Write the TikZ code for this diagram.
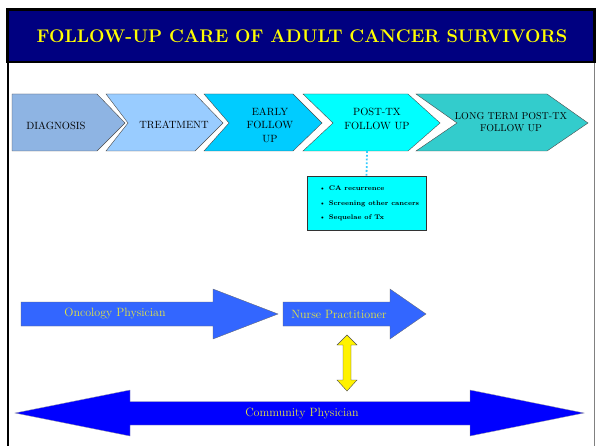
\documentclass[tikz,border=0pt]{standalone}
\usetikzlibrary{positioning}

\definecolor{navyband}{HTML}{000080}
\definecolor{titleyellow}{HTML}{FFFF00}
\definecolor{phaseone}{HTML}{8EB4E3}
\definecolor{phasetwo}{HTML}{99CCFF}
\definecolor{phasethree}{HTML}{00CCFF}
\definecolor{phasefour}{HTML}{00FFFF}
\definecolor{phasefive}{HTML}{33CCCC}
\definecolor{oncblue}{HTML}{3366FF}
\definecolor{commblue}{HTML}{0000FF}
\definecolor{softyellow}{HTML}{E6E640}
\definecolor{dotcyan}{HTML}{33CCFF}

\tikzset{
  phase/.style={draw=black!70, line width=0.4pt},
  phasetext/.style={align=center, font=\fontsize{10.5}{13.5}\selectfont, inner sep=0pt},
  roletext/.style={text=softyellow, font=\fontsize{12}{13}\selectfont, inner sep=0pt},
}

\begin{document}
\begin{tikzpicture}[x=1pt, y=-1pt]
				\useasboundingbox (0,0) rectangle (596,446);
				\fill[white] (0,0) rectangle (596,446);
				
				% frame and title band
				\draw[line width=2pt] (8,9) -- (8,446);
				\draw[gray, line width=0.8pt] (594,60) -- (594,446);
				\draw[fill=navyband, line width=2.5pt] (7.5,9.5) rectangle (594.5,62);
				\node[text=titleyellow, font=\bfseries\fontsize{18.3}{22}\selectfont] (title) at (302,36) {FOLLOW-UP CARE OF ADULT CANCER SURVIVORS};
				
				% chevrons
				\draw[phase, fill=phaseone] (12,94) -- (97,94) -- (125,123) -- (97,151) -- (12,151) -- cycle;
				\draw[phase, fill=phasetwo] (106,94) -- (195,94) -- (223,123) -- (195,151) -- (106,151) -- (128,123) -- cycle;
				\draw[phase, fill=phasethree] (204,94) -- (293,94) -- (322,123) -- (293,151) -- (204,151) -- (229,123) -- cycle;
				\draw[phase, fill=phasefour] (303,94) -- (408,94) -- (440,123) -- (408,151) -- (303,151) -- (333,123) -- cycle;
				\draw[phase, fill=phasefive] (416,94) -- (547,94) -- (588,123) -- (547,151) -- (416,151) -- (457,123) -- cycle;
				
				% chevron labels
				\node[phasetext] (diag) at (56,126) {DIAGNOSIS};
				\node[phasetext] (treat) at (174,125) {TREATMENT};
				\node[phasetext] (early) at (270,125) {EARLY\\FOLLOW\\UP};
				\node[phasetext] (posttx) at (377,119) {POST-TX\\FOLLOW UP};
				\node[font=\fontsize{10}{12.5}\selectfont, align=center, inner sep=0pt] (longterm) at (511,122) {LONG TERM POST-TX\\FOLLOW UP};
				
				% follow up items
				\coordinate (posttxbottom) at (367,151);
				\node[draw=black!80, fill=phasefour, minimum width=119pt, minimum height=54pt, inner sep=0pt] (care) at (366.5,203) {};
				\node[anchor=west, align=left, inner sep=0pt, font=\bfseries\fontsize{6.7}{14.5}\selectfont] (items) at (319,203.5) {\textbullet\ CA recurrence\\\textbullet\ Screening other cancers\\\textbullet\ Sequelae of Tx};
				\draw[dotcyan, line width=1.8pt, dotted] (posttxbottom) -- (care.north);
				
				% provider arrows
				\draw[black!60, line width=0.3pt, fill=oncblue] (21,302) -- (213,302) -- (213,289) -- (278,314) -- (213,339) -- (213,326) -- (21,326) -- cycle;
				\draw[black!60, line width=0.3pt, fill=oncblue] (283,302) -- (390,302) -- (390,289) -- (426,314) -- (390,339) -- (390,326) -- (283,326) -- cycle;
				\node[roletext] (onc) at (115,314) {Oncology Physician};
				\node[roletext] (nurse) at (339,314) {Nurse Practitioner};
				
				% link nurse to community
				\draw[black!70, line width=0.4pt, fill=yellow] (347,335) -- (357,345) -- (351,345) -- (351,380) -- (357,380) -- (347,391) -- (337,380) -- (343,380) -- (343,345) -- (337,345) -- cycle;
				
				% community physician
				\draw[black!40, line width=0.3pt, fill=commblue] (15,413) -- (130,390) -- (130,401.5) -- (470,401.5) -- (470,390) -- (584,413) -- (470,436) -- (470,425) -- (130,425) -- (130,436) -- cycle;
				\node[roletext] (comm) at (302,413) {Community Physician};
			\end{tikzpicture}
\end{document}
